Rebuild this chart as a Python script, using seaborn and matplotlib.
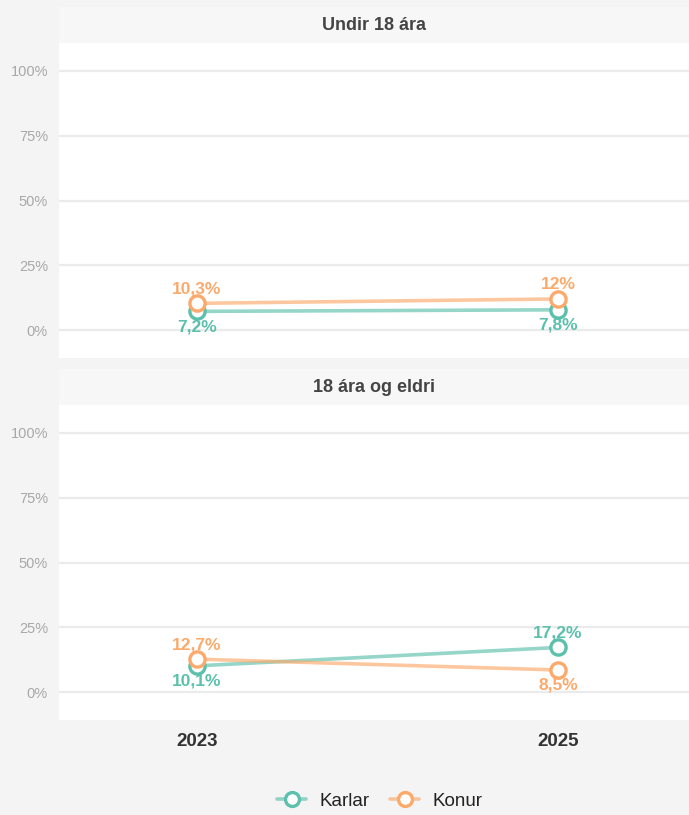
#!/usr/bin/env python3
# -*- coding: utf-8 -*-
"""
plot.py - Karlar/Konur eftir aldri, 2023 og 2025
"""
import pandas as pd
import seaborn as sns
import matplotlib.pyplot as plt
from matplotlib.lines import Line2D

# Data
years = ["2023", "2025"]
groups = ["Undir 18 ára", "18 ára og eldri"]
karlar = {"Undir 18 ára": [7.2, 7.8], "18 ára og eldri": [10.1, 17.2]}
konur = {"Undir 18 ára": [10.3, 12.0], "18 ára og eldri": [12.7, 8.5]}
series = ["Karlar", "Konur"]
colors = {"Karlar": "#5cc0ad", "Konur": "#fbaa6c"}
ytick_vals = [0, 25, 50, 75, 100]


def fmt(v):
    s = ("%.1f" % v).rstrip("0").rstrip(".")
    return s.replace(".", ",") + "%"


def main():
    sns.set_style("white")
    plt.rcParams["font.family"] = ["Liberation Sans", "DejaVu Sans"]

    fig = plt.figure(figsize=(6.89, 8.15), dpi=100)
    fig.patch.set_facecolor("#f4f4f4")

    left, width = 59 / 689, 630 / 689
    # (plot top, plot bottom, strip top) in pixels
    panels = [(43, 358, 7), (405, 720, 369)]

    for gi, (g, (ptop, pbot, stop)) in enumerate(zip(groups, panels)):
        ax = fig.add_axes([left, 1 - pbot / 815, width, (pbot - ptop) / 815])
        sax = fig.add_axes([left, 1 - ptop / 815, width, (ptop - stop) / 815])
        sax.set_facecolor("#f7f7f7")
        sax.set_xticks([])
        sax.set_yticks([])
        for sp in sax.spines.values():
            sp.set_visible(False)
        sax.text(0.5, 0.5, g, ha="center", va="center", fontsize=13,
                 fontweight="bold", color="#444444", transform=sax.transAxes)

        rows = []
        for s, d in (("Karlar", karlar), ("Konur", konur)):
            for i, y in enumerate(years):
                rows.append({"kyn": s, "x": i, "ar": y, "val": d[g][i]})
        df = pd.DataFrame(rows)

        sns.lineplot(data=df, x="x", y="val", hue="kyn", palette=colors,
                     linewidth=2.6, alpha=0.65, legend=False, ax=ax, zorder=2)
        for s in series:
            sub = df[df.kyn == s]
            sns.scatterplot(data=sub, x="x", y="val", color="white",
                            edgecolor=colors[s], linewidth=2.4, s=120,
                            legend=False, ax=ax, zorder=3)

        # labels: higher value above, lower below
        for i in range(len(years)):
            a = df[(df.x == i) & (df.kyn == "Karlar")].val.iloc[0]
            b = df[(df.x == i) & (df.kyn == "Konur")].val.iloc[0]
            for s, v, o in (("Karlar", a, b), ("Konur", b, a)):
                dy = 10.5 if v >= o else -11
                ax.annotate(fmt(v), (i, v), xytext=(0, dy),
                            textcoords="offset points", ha="center",
                            va="center", fontsize=12.5, fontweight="bold",
                            color=colors[s], zorder=4)

        ax.set_facecolor("white")
        ax.set_xlim(-0.382, 1.363)
        ax.set_ylim(-10.8, 110.8)
        ax.set_yticks(ytick_vals)
        ax.set_yticklabels([f"{t}%" for t in ytick_vals])
        ax.yaxis.grid(True, color="#ebebeb", linewidth=1.6)
        ax.set_axisbelow(True)
        ax.tick_params(axis="y", length=0, pad=8, labelsize=10.5,
                       labelcolor="#a8a8a8")
        ax.set_xticks(range(len(years)))
        if gi == len(groups) - 1:
            ax.set_xticklabels(years, fontsize=13.5, fontweight="bold",
                               color="#333333")
            ax.tick_params(axis="x", length=0, pad=9)
        else:
            ax.set_xticklabels([])
            ax.tick_params(axis="x", length=0)
        ax.set_xlabel("")
        ax.set_ylabel("")
        for sp in ax.spines.values():
            sp.set_visible(False)

    handles = []
    for s in series:
        ln = Line2D([0], [0], color=colors[s], linewidth=2.6, alpha=0.65)
        mk = Line2D([0], [0], linestyle="none", marker="o", markersize=10,
                    markerfacecolor="white", markeredgecolor=colors[s],
                    markeredgewidth=2.4)
        handles.append((ln, mk))
    leg = fig.legend(handles, series, loc="center", ncol=2,
                     bbox_to_anchor=(0.551, 1 - 801 / 815), frameon=False,
                     fontsize=13.5, handlelength=1.55, columnspacing=1.1,
                     handletextpad=0.7)
    for t in leg.get_texts():
        t.set_color("#222222")

    plt.savefig("out.png", dpi=100, facecolor=fig.get_facecolor())


if __name__ == "__main__":
    main()
